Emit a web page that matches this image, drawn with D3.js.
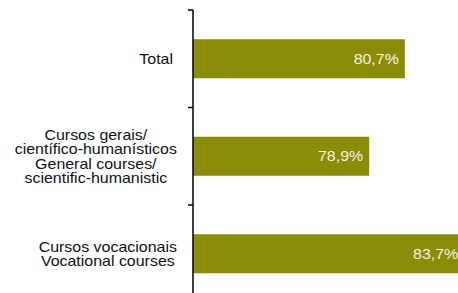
<!DOCTYPE html>
<html>
<head>
<meta charset="utf-8">
<script src="https://cdn.jsdelivr.net/npm/d3@7"></script>
<style>
  body { margin: 0; background: #fff; }
  svg { display: block; }
</style>
</head>
<body>
<div id="content"></div>
<script>
(function(d3) {

   var categories = ["total", "general", "vocational"];
   var labels = [
      ["Total"],
      ["Cursos gerais/", "científico-humanísticos", "General courses/", "scientific-humanistic"],
      ["Cursos vocacionais", "Vocational courses"]
   ];
   var values = [80.7, 78.9, 83.7];
   var valueLabels = ["80,7%", "78,9%", "83,7%"];

   var win_width = 458;
   var win_height = 293;
   var axis_x = 193;
   var stretch = 1.14; // source picture is a bit wider than tall

   var svg = d3.select("#content")
            .append("svg")
            .attr("width", win_width)
            .attr("height", win_height);

   // axis starts at 70%, about 19.8px per point
   var x = d3.scaleLinear().domain([70, 100]).range([axis_x, axis_x + 594]);
   var y = d3.scaleBand().domain(categories).range([10, 302.5])
            .paddingInner(0.6).paddingOuter(0.3);

   svg.selectAll(".bar")
            .data(values)
            .enter().append("rect")
            .attr("x", x(70))
            .attr("y", function(d, i) { return y(categories[i]); })
            .attr("width", function(d) { return x(d) - x(70); })
            .attr("height", y.bandwidth())
            .style("fill", "#8b8c07");

   svg.selectAll(".val")
            .data(values)
            .enter().append("text")
            .attr("transform", function(d, i) {
               return "translate(" + (x(d) - 6) + "," + (y(categories[i]) + y.bandwidth() / 2 + 5) + ") scale(" + stretch + ",1)";
            })
            .attr("text-anchor", "end")
            .style("font-family", "Liberation Sans, Arial, sans-serif")
            .style("font-size", "14px")
            .style("fill", "#f4f4e6")
            .text(function(d, i) { return valueLabels[i]; });

   // category labels: lines centred in a block, block right-aligned near the axis
   var rightEdge = [173, 177, 177];
   var lineH = 14.5;
   labels.forEach(function(lines, i) {
      var cy = y(categories[i]) + y.bandwidth() / 2;
      var t = svg.append("g").selectAll("text").data(lines).enter().append("text")
            .attr("text-anchor", "middle")
            .style("font-family", "Liberation Sans, Arial, sans-serif")
            .style("font-size", "14px")
            .style("fill", "#111")
            .text(function(d) { return d; });
      var w = 0;
      t.each(function() { w = Math.max(w, this.getComputedTextLength() * stretch); });
      t.attr("transform", function(d, j) {
         var ty = cy + (j - (lines.length - 1) / 2) * lineH + 5;
         return "translate(" + (rightEdge[i] - w / 2) + "," + ty + ") scale(" + stretch + ",1)";
      });
   });

   // axis line with ticks on band boundaries
   var step = y.step();
   var tickYs = categories.map(function(c) { return y(c) - y.paddingOuter() * step; });
   svg.append("line")
      .attr("x1", axis_x).attr("x2", axis_x)
      .attr("y1", tickYs[0]).attr("y2", win_height)
      .style("stroke", "#000").style("stroke-width", 1.5);
   svg.selectAll(".tick")
      .data(tickYs)
      .enter().append("line")
      .attr("x1", axis_x - 5).attr("x2", axis_x)
      .attr("y1", function(d) { return d; }).attr("y2", function(d) { return d; })
      .style("stroke", "#000").style("stroke-width", 1.5);

})(window.d3);
</script>
</body>
</html>
